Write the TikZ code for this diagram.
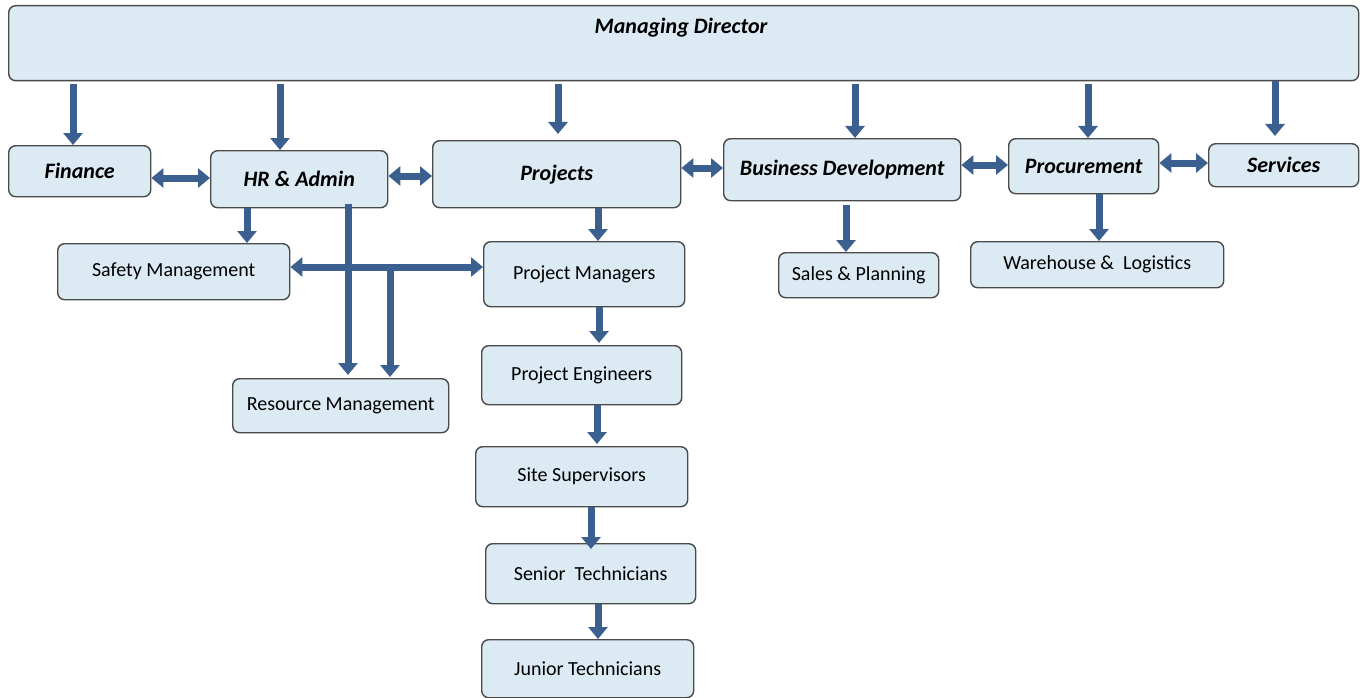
\documentclass[tikz,border=0pt]{standalone}
\usepackage{fontspec}
\setmainfont{Carlito}
\usetikzlibrary{arrows.meta,calc}
\definecolor{boxfill}{HTML}{DCEBF3}
\definecolor{boxline}{HTML}{4A4A4A}
\definecolor{arrcol}{HTML}{3B5F8E}
\tikzset{
  box/.style={draw=boxline, line width=1.4pt, fill=boxfill, rounded corners=7pt, inner sep=0pt, anchor=north west},
  hd/.style={font=\fontsize{22}{24}\selectfont\bfseries\itshape},
  rg/.style={font=\fontsize{20}{22}\selectfont},
  arr/.style={arrcol, line width=7pt, -{Triangle[length=12pt,width=19pt]}},
  darr/.style={arrcol, line width=7pt, {Triangle[length=12pt,width=19pt]}-{Triangle[length=12pt,width=19pt]}},
}
\newcommand{\bx}[7]{% name, x1,y1,x2,y2, style, text
  \node[box,#6,minimum width={(#4-#2)*1pt},minimum height={(#5-#3)*1pt}] (#1) at (#2,#3) {};
  \node[#6] (#1t) at (#1.center) {#7};}
\begin{document}
\begin{tikzpicture}[x=1pt,y=-1pt]
\useasboundingbox (0,0) rectangle (1364,698);
% boxes
\node[box,minimum width=1350pt,minimum height=75pt] (md) at (8,5) {};
\node[hd] (mdt) at (681,28) {Managing Director};
\bx{fin}{8}{145}{150}{196}{hd}{Finance}
\bx{hr}{210}{150}{387}{207}{hd}{HR \& Admin}
\bx{prj}{432}{140}{680}{207}{hd}{Projects}
\bx{bd}{723}{138}{960}{200}{hd}{Business Development}
\bx{proc}{1008}{138}{1158}{193}{hd}{Procurement}
\bx{serv}{1208}{143}{1358}{186}{hd}{Services}
\bx{safe}{57}{243}{289}{299}{rg}{Safety Management}
\bx{pm}{483}{241}{684}{306}{rg}{Project Managers}
\bx{sales}{778}{252}{938}{297}{rg}{Sales \& Planning}
\bx{wh}{970}{241}{1223}{287}{rg}{Warehouse \&\ \ Logistics}
\bx{res}{232}{378}{448}{432}{rg}{Resource Management}
\bx{pe}{481}{345}{681}{404}{rg}{Project Engineers}
\bx{ss}{475}{446}{687}{506}{rg}{Site Supervisors}
\bx{st}{485}{543}{695}{603}{rg}{Senior\ \ Technicians}
\bx{jt}{481}{639}{693}{697}{rg}{Junior Technicians}
% arrows from MD
\draw[arr] ($(md.south -| 73,0)+(0,3)$) -- (fin.north -| 73,0);
\draw[arr] ($(md.south -| 280,0)+(0,3)$) -- (hr.north -| 280,0);
\draw[arr] ($(md.south -| 558,0)+(0,3)$) -- ($(prj.north -| 558,0)+(0,-6)$);
\draw[arr] ($(md.south -| 855,0)+(0,3)$) -- (bd.north -| 855,0);
\draw[arr] ($(md.south -| 1088,0)+(0,3)$) -- (proc.north -| 1088,0);
\draw[arr] (md.south -| 1275,0) -- ($(serv.north -| 1275,0)+(0,-7)$);
% horizontal double arrows
\draw[darr] (fin.east |- 0,178) -- (hr.west |- 0,178);
\draw[darr] (hr.east |- 0,176) -- (prj.west |- 0,176);
\draw[darr] (prj.east |- 0,168) -- (bd.west |- 0,168);
\draw[darr] (bd.east |- 0,165) -- (proc.west |- 0,165);
\draw[darr] (proc.east |- 0,163) -- (serv.west |- 0,163);
% HR branch
\draw[arr] (hr.south -| 247,0) -- (safe.north -| 247,0);
\draw[arr] ($(hr.south -| 348,0)+(0,-4)$) -- ($(res.north -| 348,0)+(0,-3)$);
\draw[darr] (safe.east |- 0,267) -- (pm.west |- 0,267);
\coordinate (jn) at (390,264);
\draw[arr] (jn) -- ($(res.north -| jn)+(0,-1)$);
% projects chain
\draw[arr] (prj.south -| 598,0) -- (pm.north -| 598,0);
\draw[arr] (pm.south -| 599,0) -- ($(pe.north -| 599,0)+(0,-2)$);
\draw[arr] (pe.south -| 597,0) -- ($(ss.north -| 597,0)+(0,-2)$);
\draw[arr] (ss.south -| 591,0) -- ($(st.north -| 591,0)+(0,6)$);
\draw[arr] (st.south -| 598,0) -- (jt.north -| 598,0);
% others
\draw[arr] ($(bd.south -| 846,0)+(0,4)$) -- (sales.north -| 846,0);
\draw[arr] (proc.south -| 1099,0) -- (wh.north -| 1099,0);
\end{tikzpicture}
\end{document}
